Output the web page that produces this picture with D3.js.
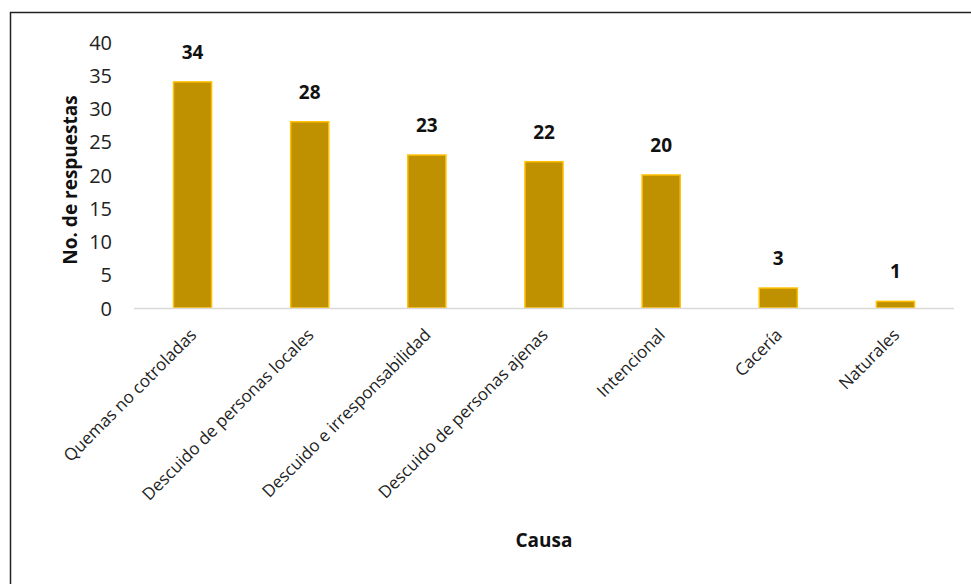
<!DOCTYPE html>
<html>
<head>
<meta charset="utf-8">
<script src="https://cdn.jsdelivr.net/npm/d3@7"></script>
<style>
  body { margin: 0; background: #fff; }
  text { font-family: "Open Sans", "Noto Sans", sans-serif; }
</style>
</head>
<body>
<div id="chart"></div>
<script>
var causas = ['Quemas no cotroladas', 'Descuido de personas locales', 'Descuido e irresponsabilidad',
    'Descuido de personas ajenas', 'Intencional', 'Cacería', 'Naturales'];
var respuestas = [34, 28, 23, 22, 20, 3, 1];
var yTicks = [0, 5, 10, 15, 20, 25, 30, 35, 40];

var svgWidth = 971;
var svgHeight = 584;

var svg = d3.select('#chart')
    .append('svg')
    .attr('width', svgWidth)
    .attr('height', svgHeight);

// outer frame (runs off right/bottom edge like the original)
svg.append('rect')
    .attr('x', 10.5)
    .attr('y', 12.5)
    .attr('width', 1000)
    .attr('height', 700)
    .attr('fill', 'none')
    .attr('stroke', '#222')
    .attr('stroke-width', 1.5);

var plotLeft = 134, plotRight = 954, plotTop = 42, plotBottom = 308;

var xScale = d3.scaleBand()
    .domain(causas)
    .range([plotLeft, plotRight])
    .paddingInner(0.675)
    .paddingOuter(0.3375);

var yScale = d3.scaleLinear()
    .domain([0, 40])
    .range([plotBottom, plotTop]);

// y tick labels
var yAxis = d3.axisLeft(yScale).tickValues(yTicks).tickSize(0).tickPadding(0);
var yG = svg.append('g')
    .attr('transform', `translate(112, 0)`)
    .call(yAxis);
yG.select('.domain').remove();
yG.selectAll('text')
    .attr('font-size', 20)
    .attr('fill', '#222')
    .attr('dy', '0.35em')
    .style('font-family', '"Open Sans", sans-serif');

// bars
svg.selectAll('.bar')
    .data(respuestas)
    .enter()
    .append('rect')
    .attr('class', 'bar')
    .attr('x', (d, i) => xScale(causas[i]))
    .attr('y', d => yScale(d))
    .attr('width', xScale.bandwidth())
    .attr('height', d => yScale(0) - yScale(d))
    .attr('fill', '#BF9000')
    .attr('stroke', '#FFC000')
    .attr('stroke-width', 1.5);

// baseline
svg.append('line')
    .attr('x1', plotLeft)
    .attr('x2', plotRight)
    .attr('y1', yScale(0) + 0.5)
    .attr('y2', yScale(0) + 0.5)
    .attr('stroke', '#d9d9d9')
    .attr('stroke-width', 1.5);

// value labels
svg.selectAll('.valueText')
    .data(respuestas)
    .enter()
    .append('text')
    .attr('x', (d, i) => xScale(causas[i]) + xScale.bandwidth() / 2)
    .attr('y', d => yScale(d) - 23)
    .attr('text-anchor', 'middle')
    .attr('font-size', 19)
    .attr('font-weight', 'bold')
    .attr('fill', '#111')
    .text(d => d);

// x category labels
var xAxis = d3.axisBottom(xScale).tickSize(0).tickPadding(0);
var xG = svg.append('g')
    .attr('transform', `translate(0, ${plotBottom})`)
    .call(xAxis);
xG.select('.domain').remove();
xG.selectAll('text')
    .attr('font-size', 17)
    .attr('fill', '#222')
    .attr('text-anchor', 'end')
    .attr('dy', 0)
    .attr('y', 0)
    .attr('transform', 'translate(5, 28) rotate(-45)')
    .style('font-family', '"Open Sans", sans-serif');

// axis titles
svg.append('text')
    .attr('transform', 'rotate(-90)')
    .attr('x', -180)
    .attr('y', 77)
    .attr('text-anchor', 'middle')
    .attr('font-size', 19)
    .attr('font-weight', 'bold')
    .attr('fill', '#111')
    .text('No. de respuestas');

svg.append('text')
    .attr('x', (plotLeft + plotRight) / 2)
    .attr('y', 547)
    .attr('text-anchor', 'middle')
    .attr('font-size', 19)
    .attr('font-weight', 'bold')
    .attr('fill', '#111')
    .text('Causa');
</script>
</body>
</html>
